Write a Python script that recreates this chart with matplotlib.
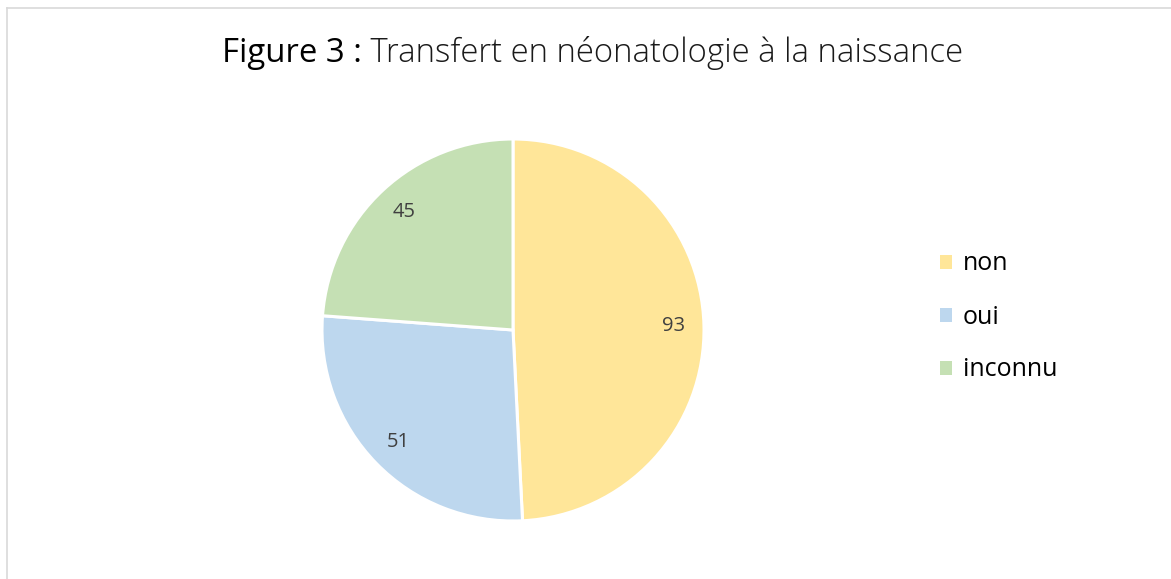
import matplotlib
matplotlib.use("Agg")
import matplotlib.pyplot as plt
from matplotlib.patches import Patch
from matplotlib.lines import Line2D
from matplotlib.offsetbox import TextArea, HPacker, AnnotationBbox

categories = ["non", "oui", "inconnu"]
values = [93, 51, 45]
colors = ["#FFE699", "#BDD7EE", "#C5E0B4"]
title_bold = "Figure 3 :"
title_rest = " Transfert en néonatologie à la naissance"

W, H = 1171, 579
fig = plt.figure(figsize=(W / 100, H / 100), dpi=100)
fig.patch.set_facecolor("white")

# border
fig.add_artist(Line2D([6.5 / W, 6.5 / W], [0, 1 - 7.5 / H], transform=fig.transFigure,
                      color="#D9D9D9", lw=1.2))
fig.add_artist(Line2D([6.5 / W, 1], [1 - 7.5 / H, 1 - 7.5 / H], transform=fig.transFigure,
                      color="#D9D9D9", lw=1.2))

cx, cy, r = 513, 330, 191
ax = fig.add_axes([(cx - r) / W, (H - cy - r) / H, 2 * r / W, 2 * r / H])
wedges, texts, autotexts = ax.pie(
    values, colors=colors, startangle=90, counterclock=False,
    autopct=lambda p: f"{round(p * sum(values) / 100):d}", pctdistance=0.84,
    wedgeprops=dict(edgecolor="white", linewidth=2.2),
    textprops=dict(color="#404040", fontsize=14.5, family="Open Sans"))
ax.set_xlim(-1, 1)
ax.set_ylim(-1, 1)
ax.set_aspect("equal")
ax.axis("off")

# title with two weights
ta1 = TextArea(title_bold, textprops=dict(fontsize=23.7, family="Open Sans", color="black"))
ta2 = TextArea(title_rest, textprops=dict(fontsize=23.7, family="Open Sans", fontweight="light",
                                          color="#1a1a1a"))
box = HPacker(children=[ta1, ta2], align="baseline", pad=0, sep=0)
ab = AnnotationBbox(box, (593 / W, 1 - 53 / H), xycoords="figure fraction", frameon=False,
                    box_alignment=(0.5, 0.5))
fig.add_artist(ab)

handles = [Patch(facecolor=c, edgecolor="none") for c in colors]
fig.legend(handles, categories, loc="center left", bbox_to_anchor=(917 / W, 1 - 317 / H),
           frameon=False, handlelength=0.48, handleheight=0.48,
           handletextpad=0.45, labelspacing=1.12, prop=dict(family="Open Sans", size=18))

fig.savefig("out.png", dpi=100, facecolor="white")
